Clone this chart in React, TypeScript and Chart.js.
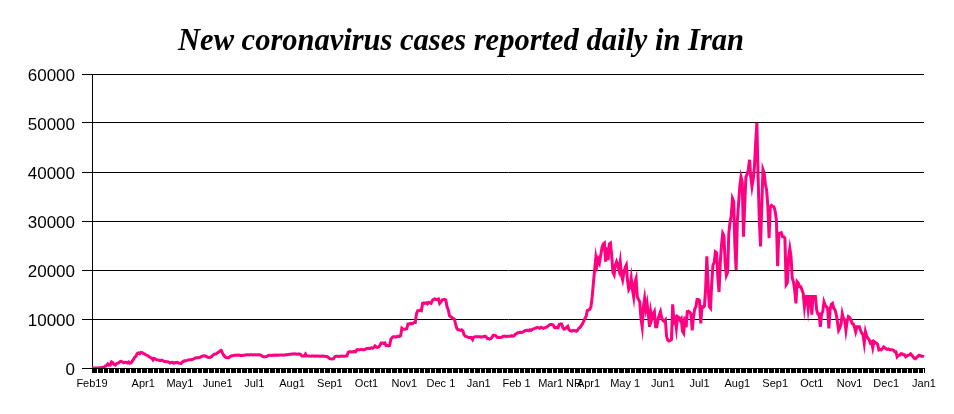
import React, { useEffect, useRef } from "react";
import { Chart, registerables } from "chart.js";

Chart.register(...registerables);

const TITLE = "New coronavirus cases reported daily in Iran";

// Daily new cases, one array per month (first array starts Feb 19, 2020)
const feb2020 = [2, 3, 13, 10, 15, 18, 34, 44, 106, 143, 205];
const mar2020 = [385, 523, 835, 586, 591, 1234, 1076, 743, 595, 881, 958, 1075, 1289, 1365, 1209, 1053, 1178, 1192, 1046, 1237, 966, 1028, 1411, 1762, 2206, 2389, 2926, 3076, 2901, 3186, 3110];
const apr2020 = [2987, 2875, 2715, 2560, 2483, 2274, 2089, 1997, 1634, 1972, 1837, 1657, 1617, 1574, 1512, 1606, 1499, 1374, 1343, 1294, 1297, 1194, 1030, 1134, 1168, 991, 1112, 1073, 1153, 1006];
const may2020 = [980, 900, 1200, 1350, 1500, 1500, 1550, 1650, 1700, 1700, 1750, 1800, 1950, 2050, 2100, 2100, 2150, 2200, 2400, 2450, 2500, 2450, 2300, 2200, 2150, 2200, 2300, 2600, 2800, 2850, 2950];
const jun2020 = [3100, 3300, 3500, 3600, 3000, 2600, 2300, 2150, 2100, 2100, 2300, 2450, 2500, 2550, 2600, 2600, 2600, 2650, 2600, 2550, 2550, 2600, 2600, 2650, 2700, 2700, 2650, 2700, 2700, 2650];
const jul2020 = [2700, 2700, 2650, 2700, 2700, 2650, 2500, 2350, 2300, 2300, 2350, 2500, 2600, 2600, 2550, 2600, 2600, 2650, 2600, 2650, 2600, 2650, 2650, 2650, 2600, 2650, 2700, 2700, 2750, 2800, 2800];
const aug2020 = [2850, 2850, 2900, 2850, 2800, 2850, 2850, 2800, 2450, 2450, 2450, 2850, 2450, 2450, 2450, 2400, 2450, 2450, 2450, 2400, 2450, 2450, 2400, 2450, 2400, 2450, 2400, 2400, 2350, 2300, 2100];
const sep2020 = [1900, 1850, 1850, 1900, 2300, 2400, 2400, 2350, 2400, 2400, 2450, 2400, 2400, 2450, 2500, 3200, 3300, 3300, 3250, 3300, 3350, 3300, 3700, 3750, 3700, 3750, 3800, 3750, 3750, 3800];
const oct2020 = [4000, 4000, 4050, 4000, 4100, 4000, 4200, 4500, 4250, 4200, 4300, 4600, 5100, 5100, 5000, 5100, 4600, 4600, 4500, 4600, 5900, 6200, 6400, 6400, 6300, 6400, 6500, 6400, 6600, 8100, 7900];
const nov2020 = [7900, 7950, 8000, 9000, 9000, 9100, 9000, 9100, 9300, 9300, 11100, 11700, 11700, 11800, 11700, 13200, 13300, 13200, 13300, 13100, 13400, 13300, 13200, 13800, 14000, 14100, 14000, 14000, 14100, 13200];
const dec2020 = [13500, 13900, 14000, 14000, 13900, 12500, 11900, 10700, 10500, 10300, 10100, 10000, 9000, 8100, 7800, 7800, 7700, 7800, 7600, 6800, 6500, 6400, 6300, 6200, 6200, 6200, 5800, 6300, 6400, 6400, 6400];
const jan2021 = [6400, 6400, 6300, 6400, 6400, 6500, 6400, 6000, 6000, 5900, 6000, 6300, 6700, 6700, 6600, 6300, 6200, 6200, 6200, 6300, 6500, 6500, 6500, 6400, 6500, 6500, 6500, 6600, 6500, 6600, 6900];
const feb2021 = [7000, 7200, 7200, 7300, 7200, 7300, 7500, 7600, 7700, 7700, 7600, 7800, 7700, 7900, 8000, 8100, 8200, 8300, 8200, 8100, 8300, 8200, 8100, 8200, 8300, 8400, 8600, 8800];
const mar2021 = [8900, 8900, 8800, 8300, 8200, 8300, 8200, 8900, 9000, 9000, 8200, 7900, 8000, 8300, 8500, 7800, 7600, 7500, 7600, 7700, 7600, 7500, 7700, 8100, 8300, 8600, 9000, 9500, 10100, 10500, 11700];
const apr2021 = [11800, 12000, 12500, 14500, 17300, 20000, 22500, 21000, 22200, 21500, 23000, 24500, 25300, 25500, 21700, 24600, 22000, 25300, 25500, 23000, 19500, 19000, 21000, 21700, 21000, 20000, 21700, 19000, 18000, 19500];
const may2021 = [20500, 21000, 17800, 16000, 16500, 18300, 16000, 14500, 17500, 18300, 14500, 14000, 13500, 10100, 8400, 12500, 14200, 12000, 13200, 11000, 8400, 11500, 10100, 11000, 11500, 8400, 8400, 10000, 10800, 11500, 10200];
const jun2021 = [9700, 9500, 9800, 6400, 5700, 5500, 5600, 5800, 13000, 9500, 10000, 8100, 10500, 10300, 9800, 10100, 7500, 7100, 10500, 8300, 11500, 11600, 11400, 11000, 7700, 10300, 12000, 12500, 14000, 14000];
const jul2021 = [13800, 9100, 12500, 12400, 12600, 16200, 22800, 17000, 12500, 12200, 17300, 21000, 21500, 23700, 23500, 18500, 15500, 21600, 25000, 27500, 27000, 21500, 18900, 19500, 27500, 29800, 31000, 34600, 34000, 24800, 20000];
const aug2021 = [30000, 33500, 37000, 39000, 38000, 26800, 32900, 39000, 39500, 40500, 42500, 39000, 37000, 38500, 41100, 45900, 50000, 39000, 30200, 24800, 32900, 40500, 39800, 37500, 36300, 33000, 26500, 32900, 33200, 33000, 32900];
const sep2021 = [32000, 30200, 20800, 27500, 27500, 27600, 26800, 26800, 26500, 17000, 17400, 22700, 24400, 22700, 18300, 17600, 15900, 13200, 17600, 17300, 16600, 16600, 15900, 15200, 12500, 14600, 14600, 12200, 14600, 14600];
const oct2021 = [10900, 14600, 14600, 14600, 11900, 11000, 11000, 8400, 11000, 11500, 13500, 12800, 12500, 12200, 8100, 11900, 13000, 13200, 12200, 11900, 11000, 9500, 7700, 8200, 9000, 11100, 10100, 9800, 7700, 9500, 10500];
const nov2021 = [10300, 9900, 9100, 9000, 8400, 7400, 8400, 8400, 8400, 7700, 7100, 6800, 5100, 7400, 6500, 6100, 5800, 5100, 5300, 4100, 5400, 5200, 5100, 4800, 3700, 3800, 3700, 4000, 4300, 4100];
const dec2021 = [3900, 3800, 3900, 3700, 3700, 3700, 3600, 3300, 3300, 2300, 2600, 2600, 2900, 2900, 2700, 2700, 2300, 2500, 2600, 2700, 2900, 2600, 2300, 2000, 1900, 2200, 2400, 2600, 2500, 2400, 2400];
const jan2022 = [2300];

// Tick labels and the day index (from Feb 19, 2020) they sit on
const tickDays = [0, 42, 72, 103, 133, 164, 195, 225, 256, 286, 317, 348, 376, 395, 407, 437, 468, 498, 529, 560, 590, 621, 651, 682];
const tickLabels = ["Feb19", "Apr1", "May1", "June1", "Jul1", "Aug1", "Sep1", "Oct1", "Nov1", "Dec 1", "Jan1", "Feb 1", "Mar1", "NR", "Apr1", "May 1", "Jun1", "Jul1", "Aug1", "Sep1", "Oct1", "Nov1", "Dec1", "Jan1"];

const yMax = 60000;
const yStep = 10000;

const months = [feb2020, mar2020, apr2020, may2020, jun2020, jul2020, aug2020, sep2020, oct2020, nov2020, dec2020,
  jan2021, feb2021, mar2021, apr2021, may2021, jun2021, jul2021, aug2021, sep2021, oct2021, nov2021, dec2021, jan2022];

const titlePlugin = {
  id: "titleText",
  afterDraw(chart: any) {
    const ctx = chart.ctx;
    ctx.save();
    ctx.font = "bold italic 30.5px 'Liberation Serif', 'Times New Roman', serif";
    ctx.fillStyle = "#000";
    ctx.textAlign = "center";
    ctx.textBaseline = "alphabetic";
    ctx.fillText(TITLE, chart.width * 0.483, 42);
    ctx.restore();
  },
};

export default function App() {
  const ref = useRef<HTMLCanvasElement>(null);

  useEffect(() => {
    const values = months.flat();
    const labels = values.map((_, i) => {
      const k = tickDays.indexOf(i);
      return k >= 0 ? tickLabels[k] : "";
    });
    const chart = new Chart(ref.current!, {
      type: "line",
      data: {
        labels,
        datasets: [
          {
            data: values,
            borderColor: "rgb(255,0,128)",
            borderWidth: 3,
            pointRadius: 0,
            tension: 0,
            fill: false,
          },
        ],
      },
      options: {
        animation: false,
        responsive: true,
        maintainAspectRatio: false,
        layout: { padding: { top: 66, right: 22, bottom: 0, left: 0 } },
        plugins: { legend: { display: false }, tooltip: { enabled: false }, title: { display: false } },
        scales: {
          x: {
            type: "category",
            offset: false,
            grid: { drawOnChartArea: false, drawTicks: true, tickLength: 5, color: "#000", lineWidth: 1 },
            border: { display: true, color: "#000", width: 1 },
            ticks: {
              autoSkip: false,
              maxRotation: 0,
              minRotation: 0,
              padding: 4,
              color: "#000",
              font: { family: "'Liberation Sans', Arial, sans-serif", size: 11 },
            },
            afterFit: (s: any) => {
              s.height = 38;
            },
          },
          y: {
            min: 0,
            max: yMax,
            grid: { color: "#000", lineWidth: 1, tickLength: 10, drawTicks: true },
            border: { display: true, color: "#000", width: 1 },
            ticks: {
              stepSize: yStep,
              padding: 7,
              labelOffset: 2,
              color: "#000",
              font: { family: "'Liberation Sans', Arial, sans-serif", size: 17 },
              callback: (v: any) => String(v),
            },
            afterFit: (s: any) => {
              s.width = 84;
            },
          },
        },
      },
      plugins: [titlePlugin],
    });
    return () => chart.destroy();
  }, []);

  return (
    <div style={{ width: 938, height: 398, position: "relative" }}>
      <canvas ref={ref} />
    </div>
  );
}
